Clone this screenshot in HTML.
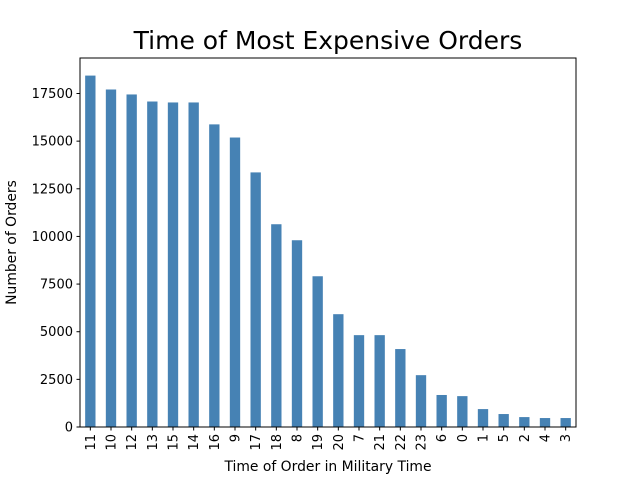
<!DOCTYPE html>
<html><head><meta charset="utf-8"><style>
body{margin:0;background:#fff;}
svg text{font-family:"DejaVu Sans","Liberation Sans",sans-serif;fill:#000;}
</style></head><body>
<svg id="chart" width="640" height="480"></svg>
<script>
const categories=["11","10","12","13","15","14","16","9","17","18","8","19","20","7","21","22","23","6","0","1","5","2","4","3"];
const orderCounts=[18440,17710,17450,17080,17030,17030,15880,15190,13360,10640,9800,7910,5920,4820,4820,4090,2720,1680,1620,940,680,520,470,470];
const yTicks=[0,2500,5000,7500,10000,12500,15000,17500];
const L=80,R=576,T=58,B=427,yMax=19363;
const svg=document.getElementById('chart');
const NS='http://www.w3.org/2000/svg';
function yS(v){return B-(v/yMax)*(B-T);}
const slot=(R-L)/categories.length;
function xS(i){return L+slot*(i+0.5);}
function mk(tag,attrs,txt){const e=document.createElementNS(NS,tag);for(const k in attrs)e.setAttribute(k,attrs[k]);if(txt!=null)e.textContent=txt;svg.appendChild(e);return e;}
orderCounts.forEach((v,i)=>{
 const r=mk('rect',{x:xS(i)-slot*0.25,y:yS(v),width:slot*0.5,height:B-yS(v),fill:'#4682b4'});
 
 
});
const frame=mk('rect',{x:L,y:T,width:R-L,height:B-T,fill:'none',stroke:'#000','stroke-width':1});


yTicks.forEach(t=>{
 const y=yS(t);
 mk('line',{x1:L-3.5,x2:L,y1:y,y2:y,stroke:'#000'});
 const tx=mk('text',{x:L-7,y:y+4.5,'font-size':13,'text-anchor':'end'},String(t));
 
 
});
categories.forEach((c,i)=>{
 const x=xS(i);
 mk('line',{x1:x,x2:x,y1:B,y2:B+3.5,stroke:'#000'});
 const tx=mk('text',{x:0,y:0,'font-size':13,'text-anchor':'end',transform:`translate(${x+4.5},${B+7}) rotate(-90)`},c);
 
 
});
const ti=mk('text',{x:(L+R)/2,y:49,'font-size':25,'text-anchor':'middle'},'Time of Most Expensive Orders');


const xl=mk('text',{x:(L+R)/2,y:471,'font-size':13.9,'text-anchor':'middle'},'Time of Order in Military Time');


const yl=mk('text',{x:0,y:0,'font-size':13.9,'text-anchor':'middle',transform:`translate(16,${(T+B)/2}) rotate(-90)`},'Number of Orders');


</script>
</body></html>
